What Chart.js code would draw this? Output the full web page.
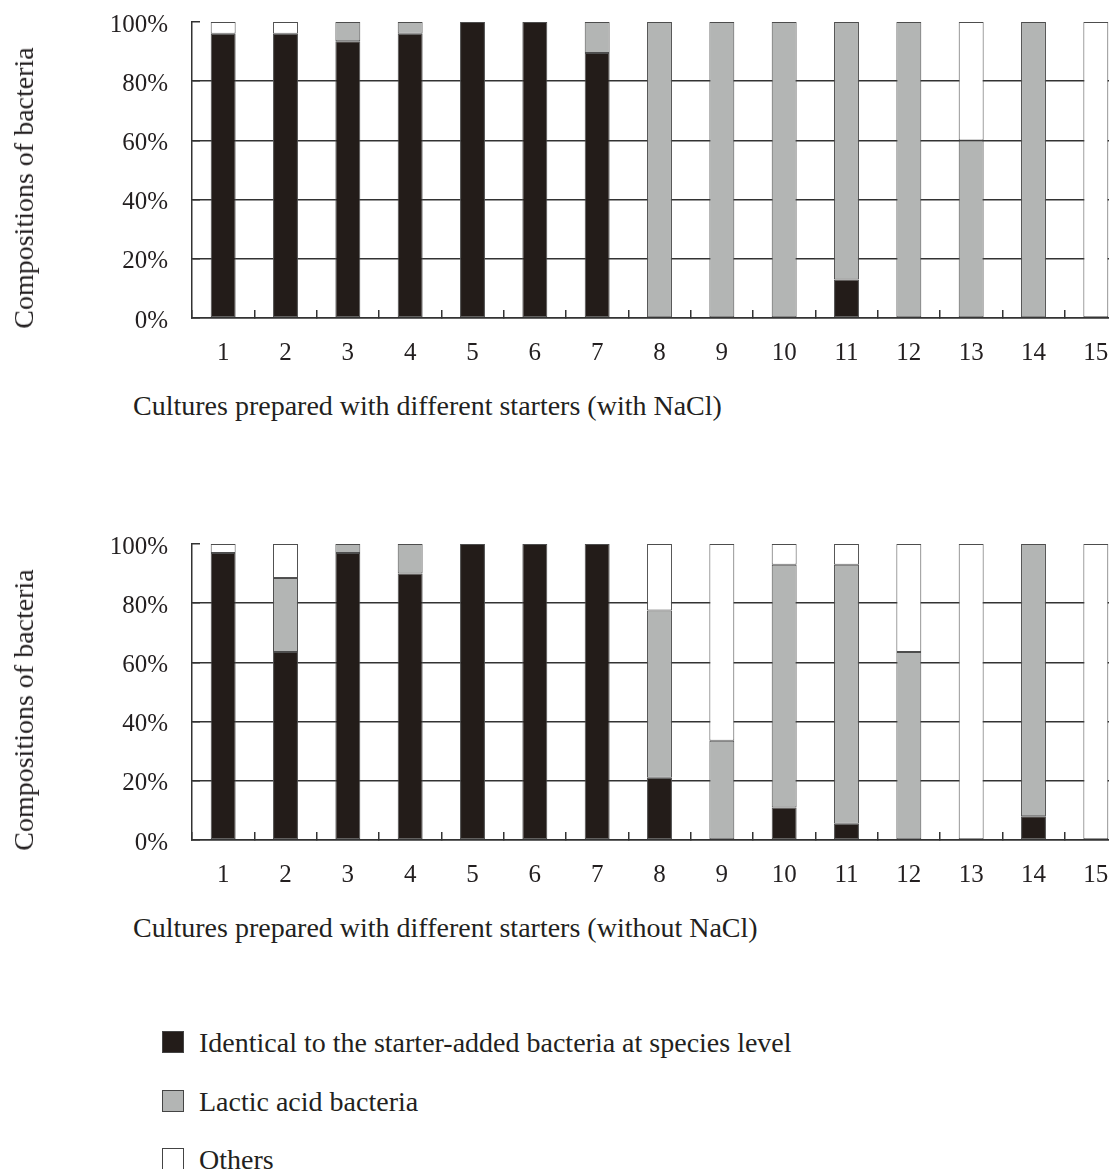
<!DOCTYPE html>
<html>
<head>
<meta charset="utf-8">
<script src="https://cdn.jsdelivr.net/npm/chart.js@4/dist/chart.umd.min.js"></script>
<style>
  html, body { margin: 0; padding: 0; background: #fff; overflow: hidden; }
  body { width: 1109px; height: 1169px; position: relative; font-family: 'Liberation Serif', 'Times New Roman', serif; color: #231f20; }
  .panel { position: absolute; left: 0; width: 1127px; height: 390px; }
  .ytitle { position: absolute; font-size: 28px; line-height: 28px; white-space: nowrap; transform: translate(-50%, -50%) rotate(-90deg); }
  .xtitle { position: absolute; left: 133px; font-size: 28px; line-height: 28px; white-space: nowrap; }
  .legend-row { position: absolute; left: 162px; font-size: 28px; line-height: 28px; white-space: nowrap; }
  .legend-row span.box { position: absolute; left: 0; top: 2px; width: 20px; height: 20px; border: 1px solid #444; }
  .legend-row span.txt { position: absolute; left: 37px; top: 0; }
</style>
</head>
<body>

<div class="panel" style="top:0"><canvas id="chartTop" width="1127" height="390"></canvas></div>
<div class="ytitle" style="left:24px; top:188px">Compositions of bacteria</div>
<div class="xtitle" style="top:392px">Cultures prepared with different starters (with NaCl)</div>

<div class="panel" style="top:522px"><canvas id="chartBottom" width="1127" height="390"></canvas></div>
<div class="ytitle" style="left:24px; top:710px">Compositions of bacteria</div>
<div class="xtitle" style="top:914px">Cultures prepared with different starters (without NaCl)</div>

<div id="legend"></div>

<script>
// cultures 1..15
const cultures = ['1', '2', '3', '4', '5', '6', '7', '8', '9', '10', '11', '12', '13', '14', '15'];

const seriesNames = ['Identical to the starter-added bacteria at species level', 'Lactic acid bacteria', 'Others'];
const seriesColors = ['#231c19', '#b3b5b4', '#ffffff'];

// with NaCl (%)
const identicalNaCl = [96, 96, 93.5, 96, 100, 100, 89.5, 0, 0, 0, 13, 0, 0, 0, 0];
const lacticNaCl    = [0, 0, 6.5, 4, 0, 0, 10.5, 100, 100, 100, 87, 100, 60, 100, 0];
const othersNaCl    = [4, 4, 0, 0, 0, 0, 0, 0, 0, 0, 0, 0, 40, 0, 100];

// without NaCl (%)
const identicalNoNaCl = [97, 63.5, 97, 90, 100, 100, 100, 21, 0, 11, 5.5, 0, 0, 8, 0];
const lacticNoNaCl    = [0, 25, 3, 10, 0, 0, 0, 56.5, 33.5, 82, 87.5, 63.5, 0, 92, 0];
const othersNoNaCl    = [3, 11.5, 0, 0, 0, 0, 0, 22.5, 66.5, 7, 7, 36.5, 100, 0, 100];

const yTicks = [0, 20, 40, 60, 80, 100];

const serif = "'Liberation Serif', 'Times New Roman', serif";
const ink = '#231f20';
const lineCol = '#333333';

function makeChart(id, series) {
  const datasets = series.map((vals, i) => ({
    label: seriesNames[i],
    data: vals,
    backgroundColor: seriesColors[i],
    borderColor: '#4d4d4d',
    borderWidth: 1,
    borderSkipped: false,
    barPercentage: 0.4,
    categoryPercentage: 1.0
  }));

  new Chart(document.getElementById(id), {
    type: 'bar',
    data: { labels: cultures, datasets: datasets },
    options: {
      responsive: false,
      animation: false,
      layout: { padding: { top: 22, left: 0, right: 0, bottom: 0 } },
      plugins: { legend: { display: false }, tooltip: { enabled: false } },
      scales: {
        x: {
          stacked: true,
          grid: {
            offset: true,
            drawOnChartArea: false,
            drawTicks: true,
            tickLength: -8,
            color: lineCol,
            lineWidth: 1.5
          },
          border: { color: lineCol, width: 1.5 },
          ticks: { color: ink, font: { family: serif, size: 25 }, padding: 28, maxRotation: 0 },
          afterFit: s => { s.height = 72; s.paddingLeft = 0; s.paddingRight = 0; }
        },
        y: {
          stacked: true,
          min: 0,
          max: 100,
          afterBuildTicks: s => { s.ticks = yTicks.map(v => ({ value: v })); },
          grid: {
            color: c => (c.tick && c.tick.value === 100) ? 'rgba(0,0,0,0)' : lineCol,
            tickColor: lineCol,
            lineWidth: 1.5,
            drawTicks: true,
            tickLength: -8
          },
          border: { color: lineCol, width: 1.5 },
          ticks: {
            color: ink,
            font: { family: serif, size: 25 },
            padding: 32,
            labelOffset: 3,
            callback: v => v + '%'
          },
          afterFit: s => { s.width = 192; s.paddingTop = 0; s.paddingBottom = 0; }
        }
      }
    }
  });
}

makeChart('chartTop', [identicalNaCl, lacticNaCl, othersNaCl]);
makeChart('chartBottom', [identicalNoNaCl, lacticNoNaCl, othersNoNaCl]);

// legend below both panels
const legend = document.getElementById('legend');
seriesNames.forEach((name, i) => {
  const row = document.createElement('div');
  row.className = 'legend-row';
  row.style.top = (1029 + i * 58.5) + 'px';
  row.innerHTML = '<span class="box" style="background:' + seriesColors[i] + '"></span><span class="txt">' + name + '</span>';
  legend.appendChild(row);
});
</script>
</body>
</html>
